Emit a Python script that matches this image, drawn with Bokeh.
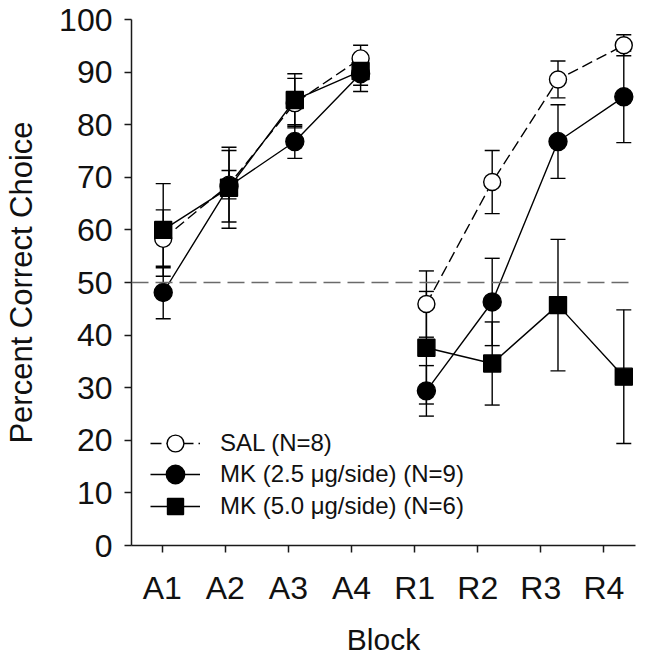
import numpy as np
from bokeh.plotting import figure
from bokeh.models import (ColumnDataSource, Whisker, TeeHead, Span, Range1d,
                          FixedTicker, Legend, LegendItem)
from bokeh.embed import file_html
from bokeh.resources import INLINE

# ---------------- data ----------------
blocks = ["A1", "A2", "A3", "A4", "R1", "R2", "R3", "R4"]
sal = [58.3, 68.6, 84.1, 92.6, 45.9, 69.1, 88.6, 95.1]
sal_err = [5.5, 2.7, 4.7, 2.5, 6.3, 6.0, 3.5, 2.0]
mk25 = [48.1, 68.3, 76.8, 89.7, 29.4, 46.3, 76.8, 85.3]
mk25_err = [5.0, 6.8, 3.2, 3.4, 4.8, 8.3, 7.0, 8.7]
mk50 = [60.0, 68.0, 84.7, 90.2, 37.6, 34.6, 45.7, 32.1]
mk50_err = [8.8, 7.7, 5.0, 2.7, 10.7, 7.9, 12.5, 12.7]
chance = 50
y_ticks = [0, 10, 20, 30, 40, 50, 60, 70, 80, 90, 100]

# tick positions of the original are slightly compressed relative to markers
TICK_STEP = 0.959
TICK_OFFSET = -0.015

FONT = "Liberation Sans"

p = figure(width=664, height=658, output_backend="svg", toolbar_location=None,
           x_range=Range1d(-0.482, 7.178), y_range=Range1d(0, 100),
           min_border_left=131, min_border_right=29, min_border_top=19,
           min_border_bottom=110)
p.outline_line_color = None
p.xgrid.grid_line_color = None
p.ygrid.grid_line_color = None
p.background_fill_color = "white"

# axes
tick_pos = [TICK_OFFSET + TICK_STEP * i for i in range(len(blocks))]
p.xaxis.ticker = FixedTicker(ticks=tick_pos)
p.xaxis.major_label_overrides = {t: b for t, b in zip(tick_pos, blocks)}
p.yaxis.ticker = FixedTicker(ticks=y_ticks)
for ax in (p.xaxis, p.yaxis):
    ax.axis_line_color = "#1a1a1a"
    ax.axis_line_width = 1.5
    ax.major_tick_line_color = "#1a1a1a"
    ax.major_tick_line_width = 1.5
    ax.major_tick_in = 0
    ax.major_tick_out = 7
    ax.minor_tick_line_color = None
    ax.major_label_text_font = FONT
    ax.major_label_text_font_size = "32px"
    ax.major_label_text_color = "#111111"
    ax.axis_label_text_font = FONT
    ax.axis_label_text_font_style = "normal"
    ax.axis_label_text_color = "#111111"
p.xaxis.axis_label_text_font_size = "30px"
p.yaxis.axis_label_text_font_size = "31px"
p.xaxis.axis_label = "Block"
p.yaxis.axis_label = "Percent Correct Choice"
p.xaxis.major_label_standoff = 17
p.yaxis.major_label_standoff = 12
p.xaxis.axis_label_standoff = 14
p.yaxis.axis_label_standoff = 17

# chance reference line
p.add_layout(Span(location=chance, dimension="width", line_color="#6a6a6a",
                  line_width=1.6, line_dash="17 7"))

x = np.arange(len(blocks))
phaseA = slice(0, 4)
phaseR = slice(4, 8)

series = [
    (sal, sal_err, "circle", "white", 17, "11 5", "SAL (N=8)", 42, 81),
    (mk25, mk25_err, "circle", "black", 18, "solid", "MK (2.5 \u03bcg/side) (N=9)", 46, 48),
    (mk50, mk50_err, "square", "black", 17, "solid", "MK (5.0 \u03bcg/side) (N=6)", 40, 19),
]

for vals, errs, marker, fill, size, dash, label, gh, ly in series:
    vals = np.array(vals)
    errs = np.array(errs)
    src = ColumnDataSource(dict(x=x, y=vals, upper=vals + errs, lower=vals - errs))
    w = Whisker(base="x", upper="upper", lower="lower", source=src,
                line_color="black", line_width=1.4,
                upper_head=TeeHead(size=15, line_color="black", line_width=1.4),
                lower_head=TeeHead(size=15, line_color="black", line_width=1.4))
    p.add_layout(w)
    lines = []
    for ph in (phaseA, phaseR):
        r = p.line(x[ph], vals[ph], line_color="black", line_width=1.4, line_dash=dash)
        lines.append(r)
    sc = p.scatter("x", "y", source=src, marker=marker, size=size,
                   fill_color=fill, line_color="black", line_width=1.4)
    legend = Legend(items=[LegendItem(label=label, renderers=[lines[0], sc])],
                    location=(19, ly), padding=0, margin=0, spacing=0,
                    glyph_width=50, glyph_height=gh, label_standoff=20,
                    label_text_font=FONT, label_text_font_size="24px",
                    label_text_color="#111111", border_line_color=None,
                    background_fill_alpha=0)
    p.add_layout(legend)

open("out.html", "w").write(file_html(p, INLINE))
